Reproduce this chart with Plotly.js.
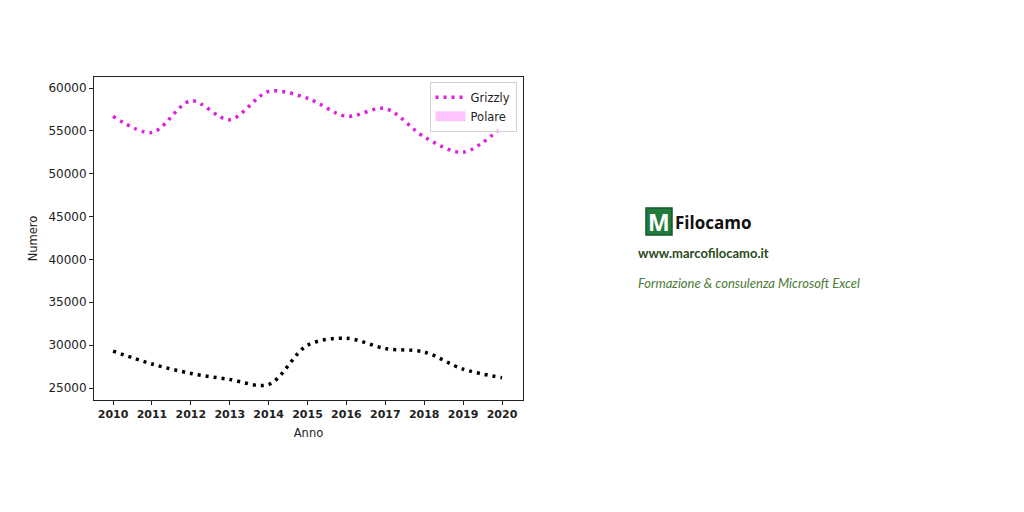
<!DOCTYPE html>
<html>
<head>
<meta charset="utf-8">
<script src="https://cdn.plot.ly/plotly-3.0.1.min.js"></script>
<style>html,body{margin:0;padding:0;background:#fff;}#chart{width:1024px;height:512px;}</style>
</head>
<body>
<div id="chart"></div>
<script>
const years = [2010, 2011, 2012, 2013, 2014, 2015, 2016, 2017, 2018, 2019, 2020];
const grizzly = [56700, 54800, 58500, 56300, 59600, 58800, 56700, 57600, 54300, 52500, 55500];
const polare = [29300, 27800, 26700, 26000, 25400, 30000, 30800, 29600, 29200, 27200, 26200];
const yTicks = [25000, 30000, 35000, 40000, 45000, 50000, 55000, 60000];

const L = 94, R = 523, T = 77, B = 400;
const W = R - L, H = B - T;
const px = x => (x - L) / W;
const py = y => (B - y) / H;

const traces = [
  {x: years, y: grizzly, name: 'Grizzly', mode: 'lines', line: {color: '#e020e0', width: 3.5, dash: '3px,5px', shape: 'spline', smoothing: 0.9}},
  {x: years, y: polare, name: 'Polare', mode: 'lines', showlegend: false, line: {color: '#000000', width: 3.5, dash: '3px,5px', shape: 'spline', smoothing: 0.9}},
  {x: [null], y: [null], name: 'Polare', mode: 'lines', line: {color: 'rgba(255,175,255,0.75)', width: 10}}
];

const layout = {
  width: 1024, height: 512,
  margin: {l: L, r: 1024 - R, t: T, b: 512 - B},
  paper_bgcolor: '#fff', plot_bgcolor: '#fff',
  font: {family: 'DejaVu Sans', size: 12, color: '#222'},
  xaxis: {
    range: [2009.51, 2020.54], tickvals: years, ticktext: years.map(String),
    showgrid: false, zeroline: false, showline: true, mirror: true, linecolor: '#222', linewidth: 1,
    ticks: 'outside', ticklen: 4, tickcolor: '#222',
    tickfont: {family: 'DejaVu Sans', size: 11, weight: 'bold', color: '#222'},
    title: {text: 'Anno', font: {size: 11.5, color: '#222'}, standoff: 8}
  },
  yaxis: {
    range: [23600, 61283], tickvals: yTicks, ticktext: yTicks.map(String),
    showgrid: false, zeroline: false, showline: true, mirror: true, linecolor: '#222', linewidth: 1,
    ticks: 'outside', ticklen: 4, tickcolor: '#222',
    tickfont: {family: 'DejaVu Sans', size: 12, color: '#222'},
    title: {text: 'Numero', font: {size: 11.5, color: '#222'}, standoff: 8}
  },
  legend: {
    x: 0.985, y: 0.985, xanchor: 'right', yanchor: 'top',
    bgcolor: 'rgba(255,255,255,0.8)', bordercolor: '#d0d0d0', borderwidth: 1,
    font: {family: 'DejaVu Sans', size: 11.5, color: '#222'},
    tracegroupgap: 0
  },
  showlegend: true,
  shapes: [
    {type: 'rect', xref: 'paper', yref: 'paper', x0: px(646), x1: px(672), y0: py(235), y1: py(208),
     fillcolor: '#1f7a3c', line: {color: '#155a2a', width: 1.5}}
  ],
  annotations: [
    {xref: 'paper', yref: 'paper', x: px(659), y: py(222), text: '<b>M</b>', showarrow: false,
     font: {family: 'Open Sans', size: 23, color: '#ffffff'}, xanchor: 'center', yanchor: 'middle'},
    {xref: 'paper', yref: 'paper', x: px(673), y: py(222), text: '<b>Filocamo</b>', showarrow: false,
     font: {family: 'Open Sans', size: 17, color: '#111'}, xanchor: 'left', yanchor: 'middle'},
    {xref: 'paper', yref: 'paper', x: px(636), y: py(253), text: '<b>www.marcofilocamo.it</b>', showarrow: false,
     font: {family: 'Lato', size: 13, color: '#2c4a1c'}, xanchor: 'left', yanchor: 'middle'},
    {xref: 'paper', yref: 'paper', x: px(636), y: py(283), text: '<i>Formazione &amp; consulenza Microsoft Excel</i>', showarrow: false,
     font: {family: 'Lato', size: 13, color: '#4b7b36'}, xanchor: 'left', yanchor: 'middle'}
  ]
};

Plotly.newPlot('chart', traces, layout, {displayModeBar: false, staticPlot: true});
</script>
</body>
</html>
